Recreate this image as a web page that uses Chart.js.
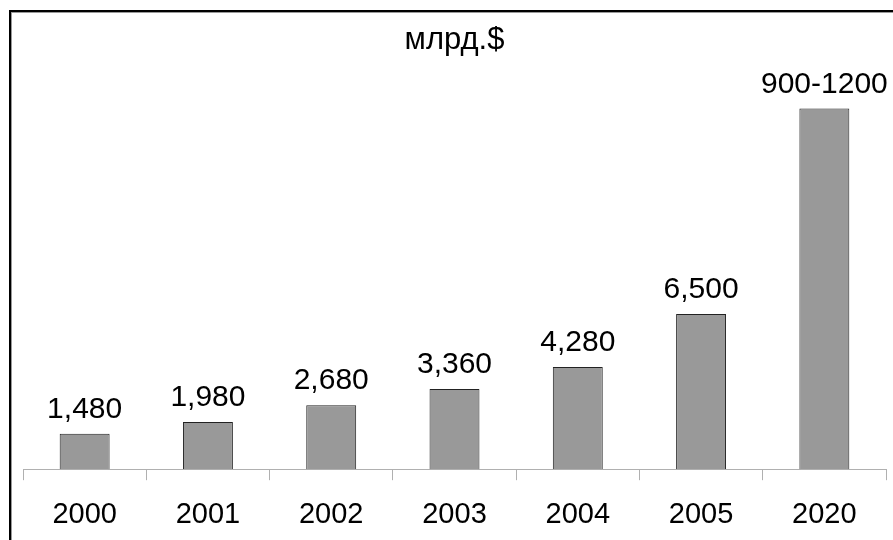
<!DOCTYPE html>
<html lang="ru">
<head>
  <meta charset="UTF-8" />
  <title>млрд.$</title>
  <script src="https://cdn.jsdelivr.net/npm/chart.js"></script>
  <style>
    html, body {
      margin: 0;
      padding: 0;
      background: #ffffff;
      overflow: hidden;
    }
    .wrap {
      position: relative;
      width: 893px;
      height: 540px;
    }
    canvas {
      position: absolute;
      left: 0;
      top: 0;
    }
    .frame {
      position: absolute;
      left: 9px;
      top: 10px;
      width: 1000px;
      height: 1000px;
      border: 2px solid #000;
      border-right: none;
      border-bottom: none;
      box-shadow: inset 1px 1px 0 #999;
      pointer-events: none;
    }
  </style>
</head>
<body>
  <div class="wrap">
    <canvas id="chart" width="893" height="540"></canvas>
    <div class="frame"></div>
  </div>

  <script>
    const years = ['2000', '2001', '2002', '2003', '2004', '2005', '2020'];
    // bar heights (2020 is drawn at ~15100)
    const values = [1480, 1980, 2680, 3360, 4280, 6500, 15100];
    // text printed over the bars
    const valueLabels = ['1,480', '1,980', '2,680', '3,360', '4,280', '6,500', '900-1200'];

    const fontFamily = "'Liberation Sans', Arial, sans-serif";

    // labels above each bar
    const barLabels = {
      id: 'barLabels',
      afterDatasetsDraw(chart) {
        const ctx = chart.ctx;
        const meta = chart.getDatasetMeta(0);
        ctx.save();
        ctx.font = '30px ' + fontFamily;
        ctx.fillStyle = '#000';
        ctx.textAlign = 'center';
        ctx.textBaseline = 'alphabetic';
        meta.data.forEach((bar, i) => {
          ctx.fillText(valueLabels[i], bar.x, bar.y - 16);
        });
        ctx.restore();
      }
    };

    const ctx = document.getElementById('chart').getContext('2d');
    new Chart(ctx, {
      type: 'bar',
      data: {
        labels: years,
        datasets: [{
          data: values,
          backgroundColor: '#999999',
          borderColor: '#222222',
          borderWidth: 1,
          categoryPercentage: 1,
          barPercentage: 0.405
        }]
      },
      options: {
        responsive: false,
        animation: false,
        layout: {
          padding: { left: 23, right: 7, top: 0, bottom: -9 }
        },
        plugins: {
          legend: { display: false },
          tooltip: { enabled: false },
          title: {
            display: true,
            text: 'млрд.$',
            color: '#000',
            font: { family: fontFamily, size: 31, weight: 'normal' },
            padding: { top: 22, bottom: 4 }
          }
        },
        scales: {
          x: {
            grid: {
              display: true,
              drawOnChartArea: false,
              drawTicks: true,
              tickLength: 11,
              color: '#b0b0b0'
            },
            border: { display: true, color: '#b0b0b0', width: 1 },
            ticks: {
              color: '#000',
              padding: 17,
              font: { family: fontFamily, size: 29 }
            }
          },
          y: {
            display: false,
            min: 0,
            max: 17000
          }
        }
      },
      plugins: [barLabels]
    });
  </script>
</body>
</html>
